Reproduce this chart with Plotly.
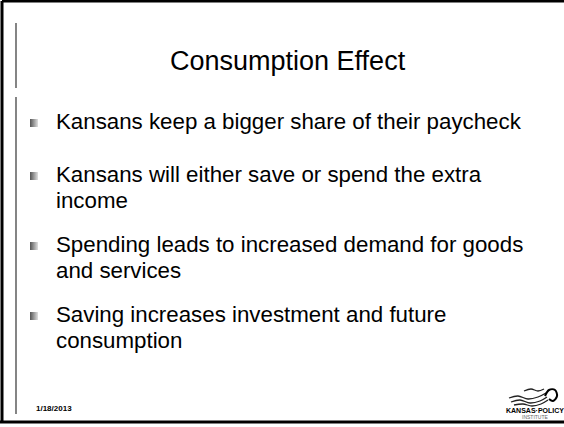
import plotly.graph_objects as go

W, H = 564, 427
FONT = "Liberation Sans, Arial, sans-serif"

TITLE = "Consumption Effect"
# each bullet: list of wrapped lines
BULLETS = [
    ["Kansans keep a bigger share of their paycheck"],
    ["Kansans will either save or spend the extra", "income"],
    ["Spending leads to increased demand for goods", "and services"],
    ["Saving increases investment and future", "consumption"],
]
BULLET_Y = [121, 174, 244, 314]     # first-line centre of each bullet
LINE_STEP = 26
DATE = "1/18/2013"
LOGO_TOP = "KANSAS\u00b7POLICY"
LOGO_BOTTOM = "INSTITUTE"

# logo swoosh strokes (x, y)
SWOOSH = [
    ([509, 518, 528, 538, 546], [398, 396, 399, 397, 393]),
    ([511, 520, 530, 540, 547], [402, 400, 403, 401, 397]),
    ([514, 523, 532, 541, 548], [405, 404, 406, 404, 400]),
    ([524, 531, 538, 544], [391, 389, 391, 389]),
]
HOOK_X = [545, 549, 555, 557, 553, 549]
HOOK_Y = [396, 390, 390, 396, 401, 399]

fig = go.Figure()
fig.update_layout(width=W, height=H, margin=dict(l=0, r=0, t=0, b=0),
                  paper_bgcolor="white", plot_bgcolor="white", showlegend=False,
                  font=dict(family=FONT, color="black"))
fig.update_xaxes(range=[0, W], visible=False, fixedrange=True)
fig.update_yaxes(range=[H, 0], visible=False, fixedrange=True)

# slide frame
frame = dict(type="line", xref="x", yref="y", line=dict(color="black", width=3))
fig.add_shape(**frame, x0=2, y0=1, x1=W, y1=1)
fig.add_shape(**frame, x0=2, y0=1, x1=2, y1=422)
fig.add_shape(**frame, x0=0, y0=422, x1=W, y1=422)
thin = dict(type="line", xref="x", yref="y", line=dict(color="#333", width=1.2))
fig.add_shape(**thin, x0=16, y0=23, x1=16, y1=88)
fig.add_shape(**thin, x0=16, y0=97, x1=16, y1=414)

fig.add_annotation(x=288, y=61, text=TITLE, showarrow=False,
                   font=dict(size=27, family=FONT), xanchor="center", yanchor="middle")

for lines, y0 in zip(BULLETS, BULLET_Y):
    for i, line in enumerate(lines):
        fig.add_annotation(x=54, y=y0 + i * LINE_STEP, text=line, showarrow=False,
                           font=dict(size=22.3, family=FONT), xanchor="left", yanchor="middle")

fig.add_scatter(x=[34] * len(BULLET_Y), y=[y + 2 for y in BULLET_Y], mode="markers",
                marker=dict(symbol="square", size=8, color="#555",
                            gradient=dict(type="horizontal", color="#e0e0e0"),
                            line=dict(width=0)),
                hoverinfo="skip")

fig.add_annotation(x=34, y=408, text=f"<b>{DATE}</b>", showarrow=False,
                   font=dict(size=8, family=FONT), xanchor="left", yanchor="middle")

for sx, sy in SWOOSH:
    fig.add_scatter(x=sx, y=sy, mode="lines", line=dict(color="#222", width=1.3, shape="spline"),
                    hoverinfo="skip")
fig.add_scatter(x=HOOK_X, y=HOOK_Y, mode="lines", line=dict(color="black", width=2, shape="spline"),
                hoverinfo="skip")
fig.add_annotation(x=535, y=410, text=f"<b>{LOGO_TOP}</b>", showarrow=False,
                   font=dict(size=7, family=FONT), xanchor="center", yanchor="middle")
fig.add_annotation(x=535, y=417, text=LOGO_BOTTOM, showarrow=False,
                   font=dict(size=5, family=FONT, color="#666"), xanchor="center", yanchor="middle")

fig.write_html("out.html", config={"displayModeBar": False},
               post_script="document.body.style.margin='0';")
